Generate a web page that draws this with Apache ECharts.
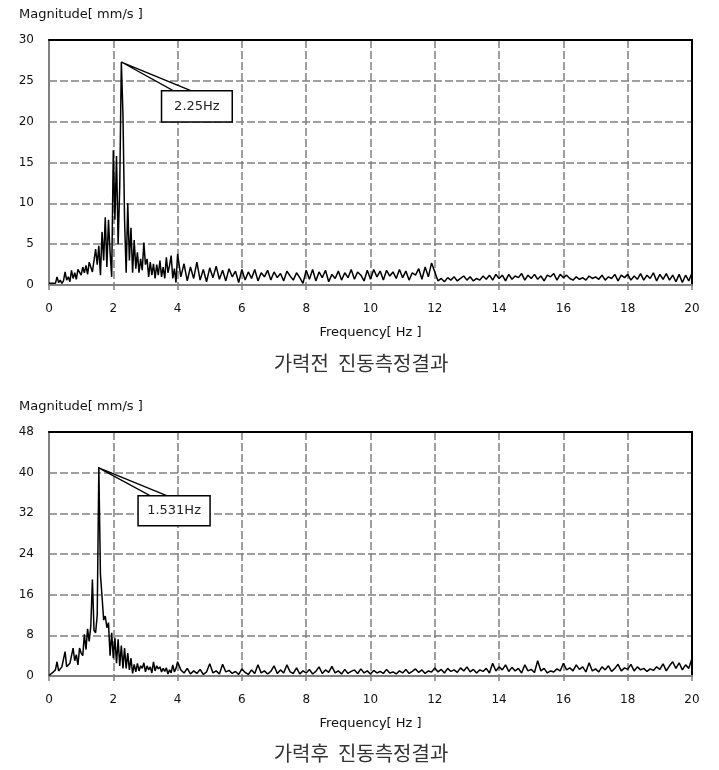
<!DOCTYPE html>
<html>
<head>
<meta charset="utf-8">
<script src="https://cdn.jsdelivr.net/npm/echarts@6/dist/echarts.min.js"></script>
<style>
html,body{margin:0;padding:0;background:#fff;}
#c{width:719px;height:770px;}
</style>
</head>
<body>
<div id="c"></div>
<script>
// ---- data ----
// sampling grids: 0-4 Hz every 0.05 Hz, 4.1-20 Hz every 0.1 Hz
const LOW_STEP = 0.05;
const HIGH_START = 4.1, HIGH_STEP = 0.1;

const xTicks = [0,2,4,6,8,10,12,14,16,18,20];
const yTicksTop = [0,5,10,15,20,25,30];
const yTicksBottom = [0,8,16,24,32,40,48];

const beforeLow = [0.2,0.3,0.2,0.3,0.2,1.0,0.3,0.6,0.2,0.5,
  1.6,0.6,1.0,0.4,1.8,0.8,1.5,0.7,1.9,2.0,
  1.2,2.2,1.5,2.4,1.3,2.8,2.9,1.6,3.0,4.4,
  2.5,4.8,1.2,6.5,3.0,8.3,2.2,8.0,4.0,1.0,
  16.5,8.0,15.8,5.0,12.0,27.3,21.0,8.0,1.5,10.0,
  3.0,7.0,1.5,5.5,2.0,4.0,1.5,3.2,1.8,5.2,
  2.5,3.2,1.0,2.8,1.2,2.6,0.8,2.5,1.2,3.0,
  1.0,2.2,0.8,3.4,1.5,2.4,3.6,0.8,2.0,0.3,
  3.8];
const beforeHigh = [1.0,2.6,0.5,2.2,0.8,2.8,0.6,1.9,0.4,2.1,
  0.9,2.3,0.7,1.8,0.5,2.0,1.0,1.7,0.3,1.9,
  0.6,1.6,0.8,1.9,0.5,1.5,1.0,1.8,0.6,1.6,
  0.9,1.4,0.5,1.7,1.1,0.6,1.5,0.9,0.2,1.8,
  0.7,1.9,0.5,1.6,0.9,1.8,0.4,1.3,0.8,1.7,
  0.6,1.5,0.9,1.9,0.7,1.6,1.2,0.5,1.8,0.7,
  1.9,1.0,1.7,0.6,1.8,1.1,1.6,0.8,1.9,0.9,
  1.7,0.6,1.5,1.2,2.0,0.7,2.2,1.0,2.7,1.6,
  0.5,0.8,0.4,0.9,0.6,1.0,0.5,0.8,1.1,0.6,
  1.0,0.5,0.8,0.6,1.1,0.7,1.2,0.6,1.3,0.8,
  1.2,0.5,1.3,0.7,1.1,0.9,1.4,0.6,1.2,0.8,
  1.3,0.7,1.1,0.5,1.2,1.0,1.4,0.6,1.3,0.9,
  1.2,0.8,0.6,1.0,0.7,0.9,0.6,1.1,0.8,1.0,
  0.7,1.2,0.6,1.0,0.8,1.3,0.5,1.2,0.9,1.3,
  0.6,1.1,0.7,1.4,0.6,1.2,0.8,1.5,0.5,1.3,
  0.7,1.4,0.6,1.2,0.4,1.3,0.3,1.2,0.5,1.5];

const afterLow = [0.1,0.2,0.6,0.8,1.2,2.8,1.0,1.4,1.8,1.5,
  4.8,1.8,2.0,2.5,2.2,5.5,3.0,4.2,2.2,5.5,
  4.5,4.0,8.2,5.2,9.3,6.8,9.8,19.0,9.0,8.5,
  12.0,41.0,20.0,15.6,11.0,11.8,9.5,10.5,4.0,8.5,
  3.5,7.5,2.5,7.2,2.0,6.0,1.5,5.5,1.5,4.5,
  1.2,3.5,0.5,2.3,0.8,2.5,1.0,2.0,1.5,2.6,
  0.8,2.0,1.2,1.8,0.6,2.8,1.0,2.0,1.4,1.8,
  0.8,1.5,0.9,1.6,0.4,1.2,0.6,2.2,0.8,1.5,
  2.8];
const afterHigh = [1.2,0.6,1.5,0.4,1.0,0.5,1.3,0.3,0.8,2.4,
  0.6,1.0,0.4,2.3,0.8,1.1,0.5,0.9,0.3,1.4,
  0.7,0.3,1.2,0.5,2.2,0.6,1.0,0.4,0.9,2.0,
  0.5,1.2,0.6,2.2,0.8,0.5,1.6,0.4,1.0,0.6,
  1.3,0.4,0.9,1.8,0.5,1.2,0.7,1.9,0.6,1.0,
  0.4,1.3,0.5,0.9,1.2,0.5,1.4,0.6,1.0,0.4,
  1.1,0.6,0.9,0.5,1.3,0.6,0.8,0.4,1.0,0.6,
  1.3,0.5,0.9,1.4,0.7,1.2,0.5,1.0,0.8,1.6,
  0.8,1.3,0.6,1.5,0.9,1.2,0.7,1.6,1.0,1.8,
  0.8,1.3,0.6,1.2,0.9,1.5,0.6,2.5,1.0,1.8,
  1.2,2.2,0.9,1.7,1.0,1.5,0.6,2.2,1.0,1.3,
  0.7,3.0,1.0,1.5,0.6,1.0,0.8,1.4,1.0,2.5,
  1.2,1.6,1.0,2.2,1.3,1.8,0.8,2.6,1.0,1.4,
  0.8,1.8,1.2,2.0,0.9,1.5,2.3,1.0,1.6,1.3,
  2.3,1.0,1.8,1.2,1.5,0.9,1.4,1.1,1.8,1.3,
  2.4,1.0,2.0,2.8,1.5,2.6,1.2,2.2,1.5,3.5];

// callout annotations (data coordinates)
const peakTop = {label:'2.25Hz', apex:[2.25,27.3], base:[3.86,4.41], box:[3.5,5.7,23.8,19.96]};
const peakBottom = {label:'1.531Hz', apex:[1.531,41], base:[3.14,3.66], box:[2.77,5.01,35.47,29.57]};

function pairs(low, high){
  const out = [];
  low.forEach((v,i)=>out.push([+(i*LOW_STEP).toFixed(2), v]));
  high.forEach((v,i)=>out.push([+(HIGH_START + i*HIGH_STEP).toFixed(2), v]));
  return out;
}

const FONT = 'DejaVu Sans';
const gridColor = '#808080';
const XMIN = xTicks[0], XMAX = xTicks[xTicks.length-1], XINT = xTicks[1]-xTicks[0];

function xAxisDef(gi){
  return {
    type:'value', gridIndex:gi, min:XMIN, max:XMAX, interval:XINT,
    name:'Frequency[ Hz ]', nameLocation:'middle', nameGap:41,
    nameTextStyle:{color:'#111', fontFamily:FONT, fontSize:13},
    axisLine:{show:true, onZero:false, lineStyle:{color:gridColor, width:2}},
    axisTick:{show:true, length:5, lineStyle:{color:gridColor, width:1.5}},
    axisLabel:{color:'#111', fontFamily:FONT, fontSize:12, margin:18},
    splitLine:{show:true, lineStyle:{color:gridColor, width:1.5, type:[8,3]}},
    z:3
  };
}
function xTopDef(gi){
  return {
    type:'value', gridIndex:gi, position:'top', min:XMIN, max:XMAX, interval:XINT,
    axisLine:{show:true, onZero:false, lineStyle:{color:'#000', width:2}},
    axisTick:{show:false}, axisLabel:{show:false}, splitLine:{show:false}, z:3
  };
}
function yAxisDef(gi, ticks){
  return {
    type:'value', gridIndex:gi, min:ticks[0], max:ticks[ticks.length-1], interval:ticks[1]-ticks[0],
    axisLine:{show:true, onZero:false, lineStyle:{color:gridColor, width:2}},
    axisTick:{show:false},
    axisLabel:{color:'#111', fontFamily:FONT, fontSize:12, margin:15},
    splitLine:{show:true, lineStyle:{color:gridColor, width:1.5, type:[8,3]}},
    z:3
  };
}
function yRightDef(gi, ticks){
  return {
    type:'value', gridIndex:gi, position:'right', min:ticks[0], max:ticks[ticks.length-1], interval:ticks[1]-ticks[0],
    axisLine:{show:true, onZero:false, lineStyle:{color:'#000', width:2}},
    axisTick:{show:false}, axisLabel:{show:false}, splitLine:{show:false}, z:3
  };
}

const chart = echarts.init(document.getElementById('c'), null, {renderer:'canvas'});
chart.setOption({
  animation:false,
  backgroundColor:'#fff',
  grid:[
    {left:49, right:27, top:40, height:245},
    {left:49, right:27, top:432, height:244}
  ],
  xAxis:[xAxisDef(0), xAxisDef(1), xTopDef(0), xTopDef(1)],
  yAxis:[yAxisDef(0, yTicksTop), yAxisDef(1, yTicksBottom), yRightDef(0, yTicksTop), yRightDef(1, yTicksBottom)],
  series:[
    {type:'line', xAxisIndex:0, yAxisIndex:0, data:pairs(beforeLow, beforeHigh), showSymbol:false, symbol:'none',
     lineStyle:{color:'#000', width:1.5}, z:5},
    {type:'line', xAxisIndex:1, yAxisIndex:1, data:pairs(afterLow, afterHigh), showSymbol:false, symbol:'none',
     lineStyle:{color:'#000', width:1.5}, z:5}
  ]
});

function callout(gi, p){
  const cv = d => chart.convertToPixel({xAxisIndex:gi, yAxisIndex:gi}, d);
  const a = cv(p.apex);
  const tl = cv([p.box[0], p.box[2]]);
  const br = cv([p.box[1], p.box[3]]);
  const b1 = [cv([p.base[0], p.box[2]])[0], tl[1]];
  const b2 = [cv([p.base[1], p.box[2]])[0], tl[1]];
  return [
    {type:'polygon', shape:{points:[a,b1,b2]}, style:{fill:'#fff', stroke:'#000', lineWidth:1.3}, z:100},
    {type:'rect', shape:{x:tl[0], y:tl[1], width:br[0]-tl[0], height:br[1]-tl[1]}, style:{fill:'#fff', stroke:'#000', lineWidth:1.5}, z:101},
    {type:'text', x:(tl[0]+br[0])/2, y:(tl[1]+br[1])/2, style:{text:p.label, fill:'#222', font:'13px "'+FONT+'"', align:'center', verticalAlign:'middle'}, z:102}
  ];
}

const topEdge0 = chart.convertToPixel({xAxisIndex:0, yAxisIndex:0}, [0, yTicksTop[yTicksTop.length-1]])[1];
const topEdge1 = chart.convertToPixel({xAxisIndex:1, yAxisIndex:1}, [0, yTicksBottom[yTicksBottom.length-1]])[1];

chart.setOption({
  graphic:[].concat(
    callout(0, peakTop),
    callout(1, peakBottom),
    [
      {type:'text', x:19, y:topEdge0-25, style:{text:'Magnitude[ mm/s ]', fill:'#111', font:'13px "'+FONT+'"', verticalAlign:'middle'}},
      {type:'text', x:19, y:topEdge1-25, style:{text:'Magnitude[ mm/s ]', fill:'#111', font:'13px "'+FONT+'"', verticalAlign:'middle'}},
      {type:'text', x:361, y:363, style:{text:'가력전  진동측정결과', fill:'#333', font:'20px "Noto Sans CJK KR"', align:'center', verticalAlign:'middle'}},
      {type:'text', x:361, y:753, style:{text:'가력후  진동측정결과', fill:'#333', font:'20px "Noto Sans CJK KR"', align:'center', verticalAlign:'middle'}}
    ]
  )
});
</script>
</body>
</html>
